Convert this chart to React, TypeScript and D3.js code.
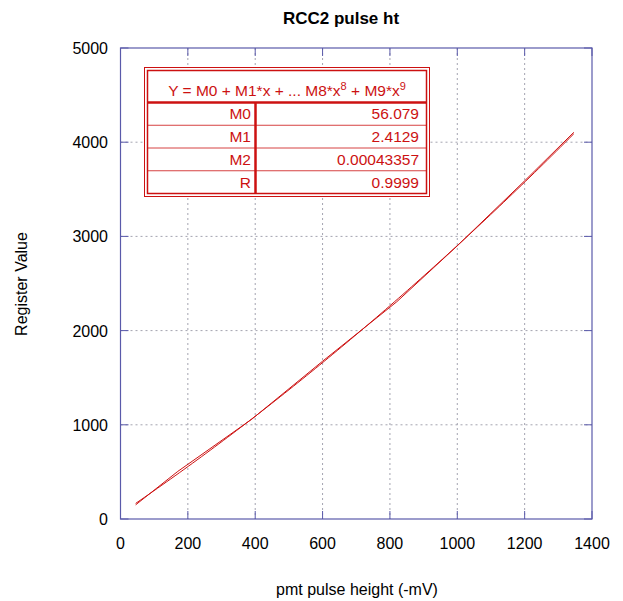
import React from "react";
import * as d3 from "d3";

const dataX = [45, 170, 390, 600, 820, 1000, 1200, 1346];
const dataY = [150, 505, 1060, 1675, 2305, 2900, 3590, 4105];
const coefNames = ["M0", "M1", "M2", "R"];
const coefValues = ["56.079", "2.4129", "0.00043357", "0.9999"];
const fitCoefs = [56.079, 2.4129, 0.00043357];
const xTicks = [0, 200, 400, 600, 800, 1000, 1200, 1400];
const yTicks = [0, 1000, 2000, 3000, 4000, 5000];

const W = 623, H = 601;
const L = 120.5, R = 592, T = 48, B = 519;
const RED = "#cc1111";
const AXIS = "#5a5aaa";
const FONT = "'Liberation Sans', Arial, Helvetica, sans-serif";

export default function App() {
  const x = d3.scaleLinear().domain([0, 1400]).range([L, R]);
  const y = d3.scaleLinear().domain([0, 5000]).range([B, T]);
  const line = d3.line<[number, number]>().x(d => x(d[0])).y(d => y(d[1]));
  const dataPts: [number, number][] = dataX.map((v, i) => [v, dataY[i]]);
  const xs = d3.range(dataX[0], dataX[dataX.length - 1] + 0.1, (dataX[dataX.length - 1] - dataX[0]) / 100);
  const fitPts: [number, number][] = xs.map(v => [v, fitCoefs.reduce((s, c, k) => s + c * Math.pow(v, k), 0)]);

  const bx0 = 144.5, by0 = 67.5, bx1 = 429.5, by1 = 196.5;
  const ix0 = 147.5, iy0 = 70.5, ix1 = 426.5, iy1 = 193.5;
  const headerBottom = 102.5;
  const divX = 255.5;
  const rowH = (iy1 - headerBottom) / 4;

  return (
    <svg width={W} height={H} style={{ position: "absolute", left: 0, top: 0, background: "#fff" }} fontFamily={FONT}>
      <rect x={0} y={0} width={W} height={H} fill="#fff" />
      {/* grid */}
      {xTicks.slice(1, -1).map(t => (
        <line key={"gx" + t} x1={x(t)} x2={x(t)} y1={T} y2={B} stroke="#a4a4b0" strokeWidth={1} strokeDasharray="2,3" />
      ))}
      {yTicks.slice(1, -1).map(t => (
        <line key={"gy" + t} x1={L} x2={R} y1={y(t)} y2={y(t)} stroke="#a4a4b0" strokeWidth={1} strokeDasharray="2,3" />
      ))}
      {/* ticks */}
      {xTicks.map(t => (
        <g key={"tx" + t}>
          <line x1={x(t)} x2={x(t)} y1={B} y2={B - 8} stroke={AXIS} strokeWidth={1} />
          <line x1={x(t)} x2={x(t)} y1={T} y2={T + 8} stroke={AXIS} strokeWidth={1} />
          <text x={x(t)} y={549} textAnchor="middle" fontSize={16} fill="#000">{t}</text>
        </g>
      ))}
      {yTicks.map(t => (
        <g key={"ty" + t}>
          <line x1={L} x2={L + 8} y1={y(t)} y2={y(t)} stroke={AXIS} strokeWidth={1} />
          <line x1={R} x2={R - 8} y1={y(t)} y2={y(t)} stroke={AXIS} strokeWidth={1} />
          <text x={108} y={y(t) + 6} textAnchor="end" fontSize={16} fill="#000">{t}</text>
        </g>
      ))}
      <rect x={L} y={T} width={R - L} height={B - T} fill="none" stroke={AXIS} strokeWidth={1.2} />
      {/* lines */}
      <path d={line(dataPts) || ""} fill="none" stroke={RED} strokeWidth={1} />
      <path d={line(fitPts) || ""} fill="none" stroke={RED} strokeWidth={1} />
      {/* table */}
      <rect x={bx0} y={by0} width={bx1 - bx0} height={by1 - by0} fill="#fff" stroke={RED} strokeWidth={1} />
      <rect x={ix0} y={iy0} width={ix1 - ix0} height={iy1 - iy0} fill="none" stroke={RED} strokeWidth={1.5} />
      <line x1={ix0} x2={ix1} y1={headerBottom} y2={headerBottom} stroke={RED} strokeWidth={2.5} />
      <line x1={divX} x2={divX} y1={headerBottom} y2={iy1} stroke={RED} strokeWidth={2.5} />
      <text x={(ix0 + ix1) / 2} y={96} textAnchor="middle" fontSize={15.5} fill={RED}>
        Y = M0 + M1*x + ... M8*x<tspan dy={-6} fontSize={11}>8</tspan>
        <tspan dy={6}> + M9*x</tspan><tspan dy={-6} fontSize={11}>9</tspan>
      </text>
      {coefNames.map((n, i) => {
        const yTop = headerBottom + i * rowH;
        return (
          <g key={n}>
            {i > 0 && <line x1={ix0} x2={ix1} y1={yTop} y2={yTop} stroke={RED} strokeWidth={0.8} />}
            <text x={251} y={yTop + rowH / 2 + 5.5} textAnchor="end" fontSize={15.5} fill={RED}>{n}</text>
            <text x={419} y={yTop + rowH / 2 + 5.5} textAnchor="end" fontSize={15.5} fill={RED}>{coefValues[i]}</text>
          </g>
        );
      })}
      {/* titles */}
      <text x={341} y={24} textAnchor="middle" fontSize={17} fontWeight="bold" fill="#000">RCC2 pulse ht</text>
      <text x={357} y={595} textAnchor="middle" fontSize={16} fill="#000">pmt pulse height (-mV)</text>
      <text transform={`translate(27,284) rotate(-90)`} textAnchor="middle" fontSize={16} fill="#000">Register Value</text>
    </svg>
  );
}
